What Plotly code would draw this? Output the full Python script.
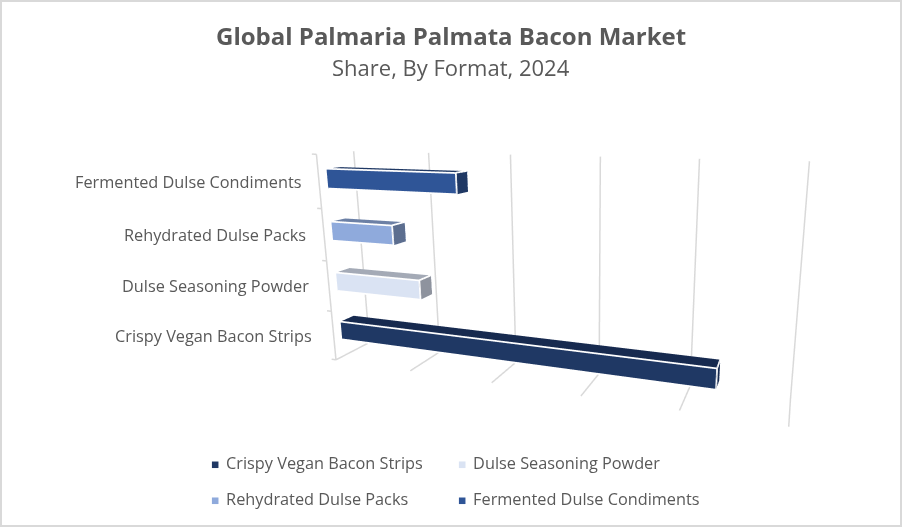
import plotly.graph_objects as go

# Data, bottom to top
categories = ["Crispy Vegan Bacon Strips", "Dulse Seasoning Powder", "Rehydrated Dulse Packs", "Fermented Dulse Condiments"]
values = [4.32, 1.1, 0.8, 1.61]
grid_values = [0, 1, 2, 3, 4, 5]
front_colors = ["#1F3864", "#DAE3F3", "#8FAADC", "#2F5597"]
top_colors = ["#172A4F", "#A4AAB6", "#6C80A5", "#1F3864"]
side_colors = ["#172A4F", "#8E939E", "#5C6E8F", "#1F3864"]
label_y = [336, 286, 235, 182]
label_x = [314, 311, 308, 304]
legend_pos = [(208.5, 463), (455.5, 463), (208.5, 499), (455.5, 499)]

GRID = "#D9D9D9"
TEXT = "#595959"
W, H = 902, 527
fig = go.Figure()


def line3d(xs, ys, zs, color, width):
    fig.add_trace(go.Scatter3d(x=xs, y=ys, z=zs, mode="lines", line=dict(color=color, width=width),
                               hoverinfo="skip", showlegend=False))


# walls
for v in grid_values:
    line3d([v, v, v], [0, 1, 1], [0, 0, 4], GRID, 3)
for c in range(5):
    line3d([-0.06, 0], [0, 0], [c, c], GRID, 3)
line3d([0, 0], [0, 0], [0, 4], GRID, 3)

# bars
for i, v in enumerate(values):
    x0, x1 = 0, v
    y0, y1 = 0.22, 0.6
    z0, z1 = i + 0.35, i + 0.72
    xs = [x0, x1, x1, x0, x0, x1, x1, x0]
    ys = [y0, y0, y1, y1, y0, y0, y1, y1]
    zs = [z0, z0, z0, z0, z1, z1, z1, z1]
    tri = [(0, 1, 5), (0, 5, 4), (1, 2, 6), (1, 6, 5), (4, 5, 6), (4, 6, 7),
           (0, 3, 2), (0, 2, 1), (3, 7, 6), (3, 6, 2), (0, 4, 7), (0, 7, 3)]
    cols = [front_colors[i]] * 2 + [side_colors[i]] * 2 + [top_colors[i]] * 2 + [front_colors[i]] * 6
    fig.add_trace(go.Mesh3d(x=xs, y=ys, z=zs, i=[t[0] for t in tri], j=[t[1] for t in tri], k=[t[2] for t in tri],
                            facecolor=cols, flatshading=True, hoverinfo="skip", showlegend=False,
                            lighting=dict(ambient=1, diffuse=0, specular=0, fresnel=0, roughness=1)))
    e = 0.004
    line3d([x0, x1, x1, x0], [y0 - e] * 4, [z1, z1, z0, z0], "white", 3.5)
    line3d([x1, x1, x1], [y0, y1, y1], [z1 + e, z1 + e, z0], "white", 3.5)

ann = []
for name, lx, ly in zip(categories, label_x, label_y):
    ann.append(dict(text=name, x=lx / W, y=1 - ly / H, xref="paper", yref="paper", xanchor="right", yanchor="middle",
                    showarrow=False, font=dict(size=16.3, color=TEXT)))
ann.append(dict(text="<b>Global Palmaria Palmata Bacon Market</b>", x=451 / W, y=1 - 35 / H, xref="paper", yref="paper",
                yanchor="middle", showarrow=False, font=dict(size=24, color=TEXT)))
ann.append(dict(text="Share, By Format, 2024", x=451 / W, y=1 - 67 / H, xref="paper", yref="paper",
                yanchor="middle", showarrow=False, font=dict(size=22, color=TEXT)))
for name, col, (lx, ly) in zip(categories, front_colors, legend_pos):
    ann.append(dict(text=f'<span style="color:{col};font-size:13.5px">■</span>\u2009 {name}', x=lx / W, y=1 - ly / H,
                    xref="paper", yref="paper", xanchor="left", yanchor="middle", showarrow=False,
                    font=dict(size=16.3, color=TEXT)))

hidden = dict(visible=False)
fig.update_layout(
    width=W, height=H, margin=dict(l=0, r=0, t=0, b=0), paper_bgcolor="white",
    font=dict(family="Open Sans"), showlegend=False, annotations=ann,
    shapes=[dict(type="rect", xref="paper", yref="paper", x0=0, x1=1, y0=0, y1=1, line=dict(color="#D9D9D9", width=4))],
    scene=dict(
        domain=dict(x=[0.297, 1], y=[0, 1]),
        xaxis=dict(hidden, range=[-0.1, 5.02]), yaxis=dict(hidden, range=[-0.01, 1.01]), zaxis=dict(hidden, range=[-0.02, 4.02]),
        aspectmode="manual", aspectratio=dict(x=2.028, y=0.245, z=0.939),
        camera=dict(eye=dict(x=0.99, y=-2.34, z=0.63), up=dict(x=0, y=0, z=1), center=dict(x=0.19, y=0, z=0.05)),
    ),
)
fig.write_html("out.html", config=dict(displayModeBar=False),
               post_script="document.body.style.margin='0';document.body.style.overflow='hidden';")
